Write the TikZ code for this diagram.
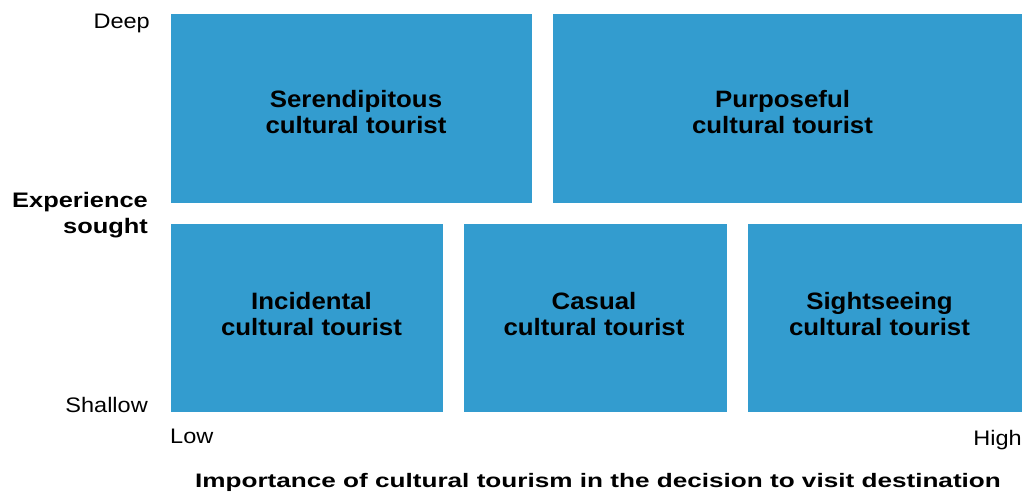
\documentclass[tikz,border=0pt]{standalone}
\usepackage{fontspec}
\setmainfont{Liberation Sans}
\newfontfamily\quadfont[FakeStretch=1.09]{Liberation Sans}
\newfontfamily\sidefont[FakeStretch=1.12]{Liberation Sans}
\newfontfamily\sidebold[FakeStretch=1.21]{Liberation Sans}
\newfontfamily\titlefont[FakeStretch=1.34]{Liberation Sans}
\usetikzlibrary{positioning}
\definecolor{TourBlue}{RGB}{51,156,207}
\tikzset{
  tourbox/.style={fill=TourBlue, draw=none, inner sep=0pt},
  tourtext/.style={align=center, inner sep=0pt, font=\quadfont\bfseries\fontsize{23.7}{26}\selectfont},
  axislabel/.style={font=\sidefont\fontsize{21}{26}\selectfont, inner sep=0pt},
  axistitle/.style={font=\sidebold\bfseries\fontsize{21}{26}\selectfont, inner sep=0pt, align=right}
}
\begin{document}
\begin{tikzpicture}[x=1pt, y=-1pt]
\useasboundingbox (0,0) rectangle (1024,492);
% quadrants, top row
\node[tourbox, minimum width=361pt, minimum height=189pt] (serend) at (351.5,108.5) {};
\node[tourbox, minimum width=469pt, minimum height=189pt] (purpose) at (787.5,108.5) {};
% bottom row
\node[tourbox, minimum width=272pt, minimum height=188pt] (incid) at (307,318) {};
\node[tourbox, minimum width=263pt, minimum height=188pt] (casual) at (595.5,318) {};
\node[tourbox, minimum width=274pt, minimum height=188pt] (sight) at (885,318) {};
% box texts
\node[tourtext] (serendtxt) at (356,112) {Serendipitous\\cultural tourist};
\node[tourtext] (purposetxt) at (782.5,112) {Purposeful\\cultural tourist};
\node[tourtext] (incidtxt) at (311.5,314) {Incidental\\cultural tourist};
\node[tourtext] (casualtxt) at (594,314) {Casual\\cultural tourist};
\node[tourtext] (sighttxt) at (879.5,314) {Sightseeing\\cultural tourist};
% axes
\node[axislabel, anchor=base east] (deep) at (150,29) {Deep};
\node[axislabel, anchor=base east] (shallow) at (148,412) {Shallow};
\node[axistitle, anchor=base east] (expsought) at (148,207) {Experience};
\node[axistitle, anchor=base east] (sought) at (148,233) {sought};
\node[axislabel, anchor=base west] (low) at (170,443) {Low};
\node[axislabel, anchor=base east] (high) at (1022,445) {High};
\node[font=\titlefont\bfseries\fontsize{19.5}{24}\selectfont, inner sep=0pt, anchor=base] (imptitle) at (598,487) {Importance of cultural tourism in the decision to visit destination};
\end{tikzpicture}
\end{document}
